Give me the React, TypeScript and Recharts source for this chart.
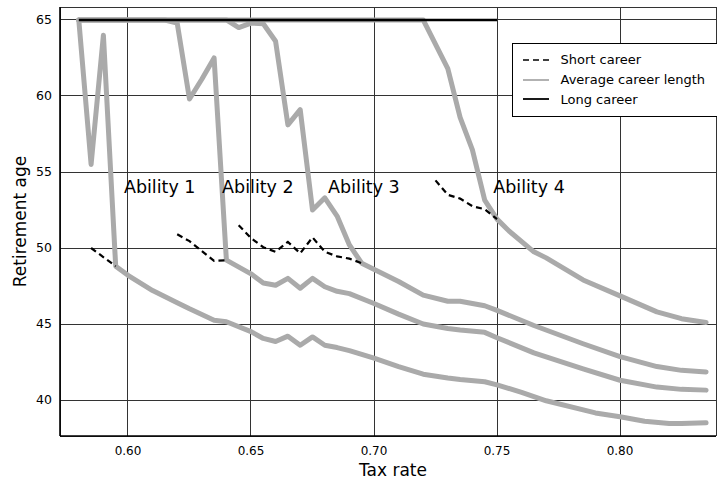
import { CartesianGrid, Legend, Line, LineChart, ReferenceDot, XAxis, YAxis } from "recharts";

const xTicks = [0.6, 0.65, 0.7, 0.75, 0.8];
const yTicks = [40, 45, 50, 55, 60, 65];

// average career length, one curve per ability
const avg1Tax = [0.58, 0.585, 0.59, 0.595, 0.6, 0.61, 0.62, 0.625, 0.635, 0.64, 0.65, 0.655, 0.66, 0.665, 0.67, 0.675, 0.68, 0.685, 0.69, 0.7, 0.71, 0.72, 0.73, 0.735, 0.745, 0.75, 0.76, 0.77, 0.79, 0.8, 0.81, 0.82, 0.825, 0.835];
const avg1Age = [65, 55.5, 64.0, 48.8, 48.2, 47.2, 46.4, 46.0, 45.25, 45.15, 44.5, 44.05, 43.85, 44.2, 43.6, 44.15, 43.6, 43.45, 43.25, 42.75, 42.2, 41.7, 41.45, 41.35, 41.2, 41.0, 40.5, 39.95, 39.15, 38.9, 38.6, 38.45, 38.45, 38.5];

const avg2Tax = [0.58, 0.615, 0.62, 0.625, 0.63, 0.635, 0.64, 0.65, 0.655, 0.66, 0.665, 0.67, 0.675, 0.68, 0.685, 0.69, 0.7, 0.71, 0.72, 0.73, 0.735, 0.745, 0.75, 0.765, 0.785, 0.8, 0.815, 0.825, 0.835];
const avg2Age = [65, 65, 64.8, 59.8, 61.1, 62.5, 49.2, 48.3, 47.7, 47.55, 48.0, 47.35, 48.0, 47.45, 47.15, 47.0, 46.35, 45.65, 45.0, 44.7, 44.6, 44.45, 44.1, 43.1, 42.05, 41.3, 40.85, 40.7, 40.65];

const avg3Tax = [0.58, 0.64, 0.645, 0.65, 0.655, 0.66, 0.665, 0.67, 0.675, 0.68, 0.685, 0.69, 0.695, 0.71, 0.72, 0.73, 0.735, 0.745, 0.75, 0.765, 0.785, 0.8, 0.815, 0.825, 0.835];
const avg3Age = [65, 65, 64.5, 64.8, 64.75, 63.6, 58.1, 59.1, 52.5, 53.3, 52.1, 50.2, 49.0, 47.8, 46.9, 46.5, 46.5, 46.2, 45.9, 44.9, 43.7, 42.85, 42.2, 41.95, 41.85];

const avg4Tax = [0.58, 0.72, 0.73, 0.735, 0.74, 0.745, 0.75, 0.755, 0.765, 0.77, 0.785, 0.8, 0.815, 0.825, 0.835];
const avg4Age = [65, 65, 61.8, 58.6, 56.45, 53.15, 51.9, 51.1, 49.75, 49.35, 47.9, 46.85, 45.8, 45.35, 45.1];

// short career, one piece per ability
const short1Tax = [0.585, 0.595];
const short1Age = [50.0, 48.8];
const short2Tax = [0.62, 0.625, 0.63, 0.635, 0.64];
const short2Age = [50.9, 50.45, 49.8, 49.15, 49.2];
const short3Tax = [0.645, 0.65, 0.655, 0.66, 0.665, 0.67, 0.675, 0.68, 0.685, 0.69, 0.695];
const short3Age = [51.5, 50.65, 50.05, 49.75, 50.4, 49.65, 50.7, 49.75, 49.45, 49.3, 49.0];
const short4Tax = [0.725, 0.73, 0.735, 0.74, 0.745, 0.75];
const short4Age = [54.45, 53.5, 53.25, 52.75, 52.55, 51.9];

// long career stays at the cap
const longTax = [0.58, 0.75];
const longAge = [65, 65];

const abilityNames = ["Ability 1", "Ability 2", "Ability 3", "Ability 4"];
const abilityLabelTax = [0.6129, 0.6528, 0.6959, 0.763];
const abilityLabelAge = 54.05;

const legendItems = [
  { name: "Short career", color: "#000", width: 1.6, dash: "6 4" },
  { name: "Average career length", color: "#aaaaaa", width: 1.8, dash: undefined },
  { name: "Long career", color: "#000", width: 1.8, dash: undefined },
];

const pts = (xs: number[], ys: number[]) => xs.map((x, i) => ({ x, y: ys[i] }));

const avgSeries = [pts(avg1Tax, avg1Age), pts(avg2Tax, avg2Age), pts(avg3Tax, avg3Age), pts(avg4Tax, avg4Age)];
const shortSeries = [pts(short1Tax, short1Age), pts(short2Tax, short2Age), pts(short3Tax, short3Age), pts(short4Tax, short4Age)];
const longSeries = pts(longTax, longAge);

const LegendBox = () => (
  <div
    style={{
      border: "1.5px solid #000",
      background: "#fff",
      width: 212,
      height: 74,
      boxSizing: "border-box",
      padding: "6px 0 0 9.5px",
    }}
  >
    {legendItems.map((item) => (
      <div key={item.name} style={{ display: "flex", alignItems: "center", height: 19.7, fontSize: 13, color: "#000" }}>
        <svg width={26} height={8} style={{ display: "block" }}>
          <line x1={0} x2={26} y1={4} y2={4} stroke={item.color} strokeWidth={item.width} strokeDasharray={item.dash} />
        </svg>
        <span style={{ marginLeft: 12, whiteSpace: "nowrap" }}>{item.name}</span>
      </div>
    ))}
  </div>
);

const YTitle = (props: any) => {
  const vb = props.viewBox;
  const cx = vb.x + 19.5;
  const cy = vb.y + vb.height / 2;
  return (
    <text x={cx} y={cy} transform={`rotate(-90, ${cx}, ${cy})`} textAnchor="middle" dominantBaseline="central" fontSize={17} fill="#000">
      Retirement age
    </text>
  );
};

export default function App() {
  return (
    <div
      style={{
        position: "absolute",
        left: 0,
        top: 0,
        width: 717,
        height: 479,
        overflow: "hidden",
        background: "#fff",
        fontFamily: "'DejaVu Sans', sans-serif",
      }}
    >
      <LineChart width={717} height={479} margin={{ top: 7, right: 1, left: 0, bottom: 0 }}>
        <CartesianGrid stroke="#333" strokeWidth={1} shapeRendering="crispEdges" />
        <XAxis
          dataKey="x"
          type="number"
          domain={[0.57236, 0.83902]}
          allowDataOverflow
          ticks={xTicks}
          interval={0}
          tickFormatter={(v: number) => v.toFixed(2)}
          tick={{ fontSize: 12, fill: "#000" }}
          tickLine={false}
          tickSize={0}
          tickMargin={10}
          height={43}
          axisLine={{ stroke: "#000", strokeWidth: 1.6 }}
          label={{ value: "Tax rate", position: "insideBottom", offset: 3.5, dx: 5, fontSize: 17, fill: "#000" }}
        />
        <YAxis
          dataKey="y"
          type="number"
          domain={[37.632, 65.855]}
          allowDataOverflow
          ticks={yTicks}
          interval={0}
          tick={{ fontSize: 12.5, fill: "#000" }}
          tickLine={false}
          tickSize={0}
          tickMargin={8}
          width={60}
          axisLine={{ stroke: "#000", strokeWidth: 1.6 }}
          label={{ value: "Retirement age", content: YTitle }}
        />
        {avgSeries.map((d, i) => (
          <Line
            key={`avg${i}`}
            data={d}
            dataKey="y"
            type="linear"
            stroke="#aaaaaa"
            strokeWidth={5}
            strokeLinejoin="round"
            strokeLinecap="round"
            dot={false}
            activeDot={false}
            legendType="none"
            isAnimationActive={false}
          />
        ))}
        {shortSeries.map((d, i) => (
          <Line
            key={`short${i}`}
            data={d}
            dataKey="y"
            type="linear"
            stroke="#000"
            strokeWidth={2.2}
            strokeDasharray="6 4"
            dot={false}
            activeDot={false}
            legendType="none"
            isAnimationActive={false}
          />
        ))}
        <Line
          data={longSeries}
          dataKey="y"
          type="linear"
          stroke="#000"
          strokeWidth={2.6}
          dot={false}
          activeDot={false}
          legendType="none"
          isAnimationActive={false}
        />
        {abilityNames.map((name, i) => (
          <ReferenceDot
            key={name}
            x={abilityLabelTax[i]}
            y={abilityLabelAge}
            r={0}
            fill="none"
            stroke="none"
            label={{ value: name, position: "center", fontSize: 17.5, fill: "#000" }}
          />
        ))}
        <Legend
          layout="vertical"
          align="center"
          verticalAlign="middle"
          wrapperStyle={{ left: 512, top: 43, width: 212, height: 74 }}
          content={() => <LegendBox />}
        />
      </LineChart>
    </div>
  );
}
